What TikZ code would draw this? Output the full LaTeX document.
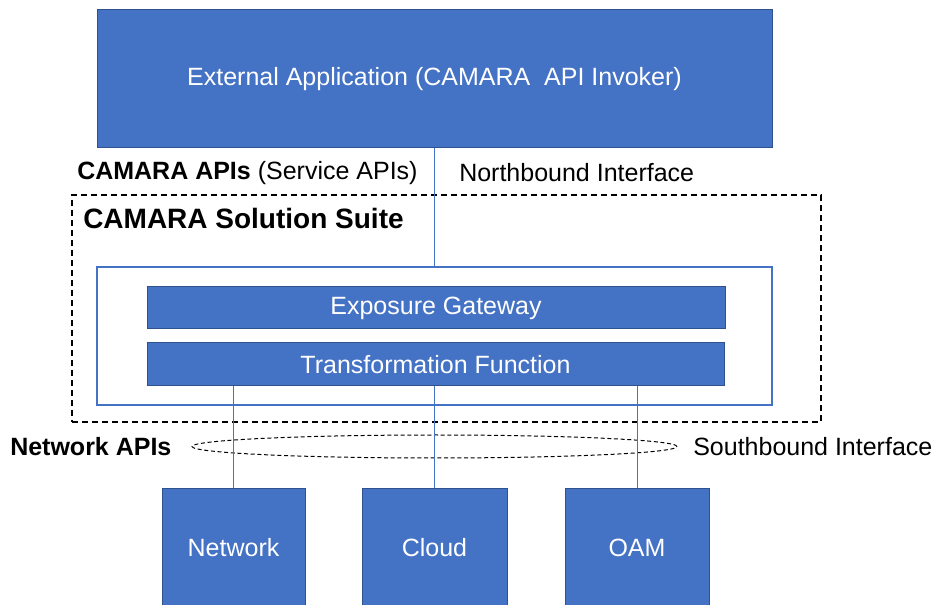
\documentclass[tikz,border=0pt]{standalone}
\usepackage{fontspec}
\setmainfont{Liberation Sans}
\usetikzlibrary{shapes.geometric}
\definecolor{boxblue}{HTML}{4472C4}
\definecolor{edgeblue}{HTML}{2F528F}
\tikzset{
  px/.style={x=0.75pt,y=-0.75pt},
  fillbox/.style={draw=edgeblue,line width=0.75pt,fill=boxblue,text=white,inner sep=0pt,
     font=\fontsize{18.75}{22}\selectfont},
  framebox/.style={draw=boxblue,line width=1pt,fill=none,inner sep=0pt},
  conn/.style={draw=boxblue,line width=0.75pt},
  label/.style={anchor=west,inner sep=0pt,font=\fontsize{18.75}{22}\selectfont},
  biglabel/.style={anchor=west,inner sep=0pt,font=\fontsize{21}{25}\selectfont\bfseries},
  suite/.style={draw=black,line width=0.9pt,dash pattern=on 4.5pt off 3pt,inner sep=0pt},
  sbell/.style={ellipse,draw=black,line width=0.75pt,dash pattern=on 3pt off 2pt,inner sep=0pt},
}
\begin{document}
\begin{tikzpicture}[px]
\useasboundingbox[fill=white] (0,0) rectangle (935,605);
% dashed suite frame
\node[suite,minimum width=561.75pt,minimum height=170.25pt] (suite) at (446.5,308.5) {};
% top application
\node[fillbox,minimum width=506.25pt,minimum height=103.5pt] (app) at (434.5,79)
  {External Application (CAMARA\ \ API Invoker)};
% inner frame
\node[framebox,minimum width=506.25pt,minimum height=103.5pt] (inner) at (434.5,336) {};
\node[fillbox,minimum width=433.5pt,minimum height=31.5pt] (expo) at (436,308) {Exposure Gateway};
\node[fillbox,minimum width=432.75pt,minimum height=32.25pt] (trans) at (435.5,364.5) {Transformation Function};
% bottom boxes
\node[fillbox,minimum width=107.25pt,minimum height=87.75pt] (net) at (233.5,547.5) {Network};
\node[fillbox,minimum width=108.75pt,minimum height=87.75pt] (cloud) at (434.5,547.5) {Cloud};
\node[fillbox,minimum width=108pt,minimum height=87.75pt] (oam) at (637,547.5) {OAM};
% southbound ellipse
\node[sbell,minimum width=363.75pt,minimum height=17.25pt] (sb) at (434.5,446.5) {};
% connectors
\draw[conn] (app.south) -- (inner.north);
\draw[conn] (trans.south -| net.north) -- (net.north);
\draw[conn] (trans.south -| cloud.north) -- (cloud.north);
\draw[conn] (trans.south -| oam.north) -- (oam.north);
% labels
\node[label] (capis) at (77,173) {\textbf{CAMARA APIs} (Service APIs)};
\node[label] (nbi) at (459,173) {Northbound Interface};
\node[biglabel] (suitelbl) at (83,218) {CAMARA Solution Suite};
\node[label] (napis) at (10,447) {\textbf{Network APIs}};
\node[label] (sbi) at (693,447) {Southbound Interface};
\end{tikzpicture}
\end{document}
